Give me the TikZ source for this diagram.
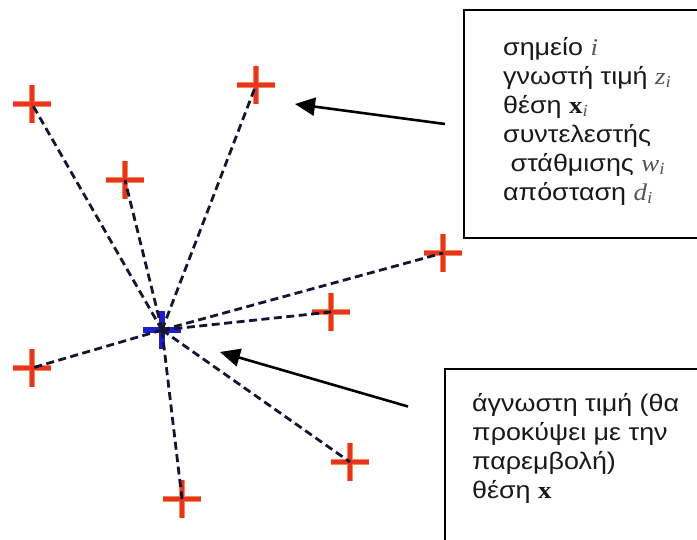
\documentclass[tikz,border=0pt]{standalone}
\usepackage{fontspec}
\setmainfont[FakeStretch=1.12]{Liberation Sans}
\newfontfamily\mserif[FakeStretch=1.12]{Liberation Serif}
\usetikzlibrary{arrows.meta}
\definecolor{crossred}{RGB}{230,52,36}
\definecolor{crosshalo}{RGB}{246,138,70}
\definecolor{crossblue}{RGB}{30,30,205}
\definecolor{dashc}{RGB}{18,22,48}
\definecolor{txt}{RGB}{25,25,25}
\definecolor{mtxt}{RGB}{85,85,85}
\newcommand{\mvar}[1]{{\mserif\itshape\color{mtxt}#1}}
\newcommand{\mbf}[1]{{\mserif\bfseries\color{txt}#1}}
\newcommand{\msub}[1]{\textsubscript{\mserif\itshape\color{mtxt}#1}}
\begin{document}
\begin{tikzpicture}[x=1pt,y=-1pt,
  crossbase/.style={minimum size=38pt, inner sep=0pt, outer sep=0pt},
  redcross/.style={crossbase, path picture={
     \draw[crosshalo, line width=6.5pt] (path picture bounding box.west) -- (path picture bounding box.east)
       (path picture bounding box.north) -- (path picture bounding box.south);
     \draw[crossred, line width=4.2pt] (path picture bounding box.west) -- (path picture bounding box.east)
       (path picture bounding box.north) -- (path picture bounding box.south);}},
  bluecross/.style={crossbase, path picture={
     \draw[crossblue, line width=5.5pt] (path picture bounding box.west) -- (path picture bounding box.east)
       (path picture bounding box.north) -- (path picture bounding box.south);}},
  link/.style={draw=dashc, line width=2.8pt, dash pattern=on 8pt off 4.5pt},
  pointer/.style={draw=black, line width=2.6pt, -{Triangle[length=20pt,width=18pt]}},
  box/.style={draw=black, line width=2pt, fill=white, inner sep=0pt, anchor=north west},
  label/.style={anchor=base west, align=left, inner sep=0pt, text=txt,
     font=\fontsize{24}{29}\selectfont},
]
\useasboundingbox (0,0) rectangle (697,539);

\node[bluecross] (c) at (162,330) {};
\node[redcross] (p1) at (32,104) {};
\node[redcross] (p2) at (256,85) {};
\node[redcross] (p3) at (125,180) {};
\node[redcross] (p4) at (443,253) {};
\node[redcross] (p5) at (331,312) {};
\node[redcross] (p6) at (32,368) {};
\node[redcross] (p7) at (350,462) {};
\node[redcross] (p8) at (182,499) {};

\foreach \p in {p1,p2,p3,p4,p5,p6,p7,p8}
  \draw[link] (c.center) -- (\p.center);

\node[box, minimum width=260pt, minimum height=228pt] (b1) at (463,9) {};
\node[box, minimum width=280pt, minimum height=175pt] (b2) at (444,368) {};

\node[label] (t1) at (503,200) {σημείο \mvar{i}\\
  γνωστή τιμή \mvar{z}\msub{i}\\
  θέση \mbf{x}\msub{i}\\
  συντελεστής\\
  \ στάθμισης \mvar{w}\msub{i}\\
  απόσταση \mvar{d}\msub{i}};

\node[label] (t2) at (472,498) {άγνωστη τιμή (θα\\
  προκύψει με την\\
  παρεμβολή)\\
  θέση \mbf{x}};

\coordinate (a1) at (295,104);
\coordinate (a2) at (220,352);
\draw[pointer] ([xshift=-18pt]b1.west) -- (a1);
\draw[pointer] ([xshift=-36pt,yshift=50pt]b2.west) -- (a2);
\end{tikzpicture}
\end{document}
